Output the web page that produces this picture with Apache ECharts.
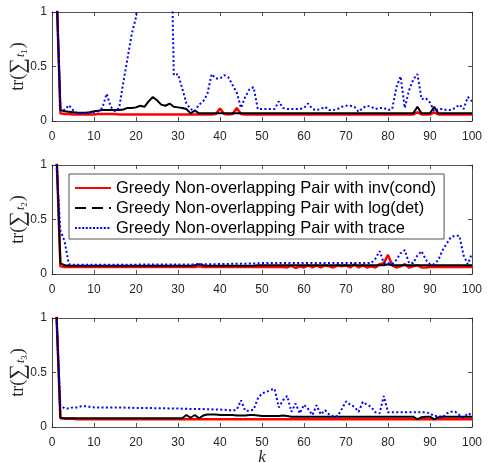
<!DOCTYPE html>
<html>
<head>
<meta charset="utf-8">
<script src="https://cdn.jsdelivr.net/npm/echarts@6/dist/echarts.min.js"></script>
<style>
  html, body { margin: 0; padding: 0; background: #fff; }
  #chart { width: 492px; height: 463px; }
</style>
</head>
<body>
<div id="chart"></div>
<script>
// Iteration index k
const K = [
  1,2,3,4,5,6,7,8,9,10,11,12,13,14,15,16,17,18,19,20,
  21,22,23,24,25,26,27,28,29,30,31,32,33,34,35,36,37,38,39,40,
  41,42,43,44,45,46,47,48,49,50,51,52,53,54,55,56,57,58,59,60,
  61,62,63,64,65,66,67,68,69,70,71,72,73,74,75,76,77,78,79,80,
  81,82,83,84,85,86,87,88,89,90,91,92,93,94,95,96,97,98,99,100
];

const xTicks = [0,10,20,30,40,50,60,70,80,90,100];
const yTicks = [0, 0.5, 1];

const names = [
  'Greedy Non-overlapping Pair with inv(cond)',
  'Greedy Non-overlapping Pair with log(det)',
  'Greedy Non-overlapping Pair with trace'
];

// tr(Sigma_t1)
const t1Cond = [
  1.3,0.07,0.065,0.065,0.06,0.06,0.06,0.06,0.06,0.06,
  0.065,0.065,0.065,0.065,0.065,0.06,0.06,0.06,0.06,0.06,
  0.06,0.06,0.06,0.06,0.06,0.06,0.06,0.06,0.06,0.06,
  0.06,0.06,0.06,0.06,0.06,0.06,0.06,0.06,0.065,0.115,
  0.065,0.06,0.065,0.12,0.065,0.06,0.06,0.06,0.06,0.06,
  0.06,0.06,0.06,0.06,0.06,0.06,0.06,0.06,0.06,0.06,
  0.06,0.06,0.06,0.06,0.06,0.06,0.06,0.06,0.06,0.06,
  0.06,0.06,0.06,0.06,0.06,0.06,0.06,0.06,0.06,0.06,
  0.06,0.06,0.06,0.06,0.06,0.06,0.08,0.06,0.06,0.06,
  0.08,0.06,0.06,0.06,0.06,0.06,0.06,0.06,0.06,0.06
];
const t1Det = [
  1.3,0.1,0.09,0.085,0.08,0.075,0.075,0.075,0.08,0.09,
  0.095,0.1,0.1,0.1,0.1,0.1,0.105,0.12,0.12,0.125,
  0.14,0.13,0.18,0.22,0.19,0.15,0.14,0.16,0.13,0.125,
  0.12,0.11,0.07,0.095,0.07,0.07,0.07,0.07,0.07,0.07,
  0.07,0.07,0.07,0.07,0.07,0.07,0.07,0.07,0.07,0.07,
  0.07,0.07,0.07,0.07,0.07,0.07,0.07,0.07,0.07,0.07,
  0.07,0.07,0.07,0.07,0.07,0.07,0.07,0.07,0.07,0.07,
  0.07,0.07,0.07,0.07,0.07,0.07,0.07,0.07,0.07,0.07,
  0.07,0.07,0.07,0.07,0.07,0.07,0.13,0.07,0.07,0.07,
  0.13,0.07,0.07,0.07,0.07,0.07,0.07,0.07,0.07,0.07
];
const t1Trace = [
  1.3,0.12,0.1,0.145,0.1,0.07,0.07,0.07,0.075,0.08,
  0.09,0.12,0.25,0.13,0.09,0.12,0.36,0.58,0.8,0.95,
  1.3,1.6,1.8,2.0,2.1,2.2,2.3,2.4,0.42,0.43,
  0.3,0.16,0.11,0.09,0.15,0.18,0.25,0.43,0.39,0.39,
  0.42,0.4,0.33,0.26,0.12,0.22,0.29,0.31,0.11,0.11,
  0.11,0.11,0.11,0.18,0.12,0.11,0.11,0.11,0.11,0.12,
  0.16,0.11,0.1,0.11,0.13,0.1,0.1,0.11,0.13,0.14,
  0.14,0.13,0.085,0.12,0.14,0.13,0.11,0.12,0.12,0.1,
  0.11,0.31,0.41,0.12,0.28,0.38,0.43,0.2,0.21,0.17,
  0.09,0.11,0.11,0.1,0.1,0.12,0.15,0.11,0.22,0.18
];

// tr(Sigma_t2)
const t2Cond = [
  1.2,0.07,0.065,0.065,0.065,0.065,0.065,0.065,0.065,0.065,
  0.065,0.065,0.065,0.065,0.065,0.065,0.065,0.065,0.065,0.065,
  0.065,0.065,0.065,0.065,0.065,0.065,0.065,0.065,0.065,0.065,
  0.065,0.065,0.065,0.065,0.07,0.065,0.065,0.065,0.065,0.065,
  0.065,0.065,0.065,0.065,0.065,0.065,0.065,0.065,0.065,0.065,
  0.065,0.065,0.065,0.065,0.065,0.06,0.075,0.055,0.07,0.06,
  0.08,0.06,0.08,0.06,0.08,0.07,0.06,0.08,0.07,0.08,
  0.06,0.09,0.06,0.08,0.06,0.07,0.06,0.09,0.1,0.175,
  0.08,0.06,0.07,0.09,0.06,0.07,0.08,0.06,0.06,0.065,
  0.065,0.065,0.065,0.065,0.065,0.065,0.065,0.065,0.065,0.065
];
const t2Det = [
  1.2,0.1,0.08,0.075,0.075,0.075,0.075,0.075,0.075,0.075,
  0.075,0.075,0.075,0.075,0.075,0.075,0.075,0.075,0.075,0.075,
  0.075,0.075,0.075,0.075,0.075,0.075,0.075,0.075,0.075,0.075,
  0.075,0.075,0.075,0.08,0.09,0.08,0.075,0.075,0.075,0.075,
  0.075,0.075,0.075,0.075,0.075,0.075,0.075,0.075,0.08,0.08,
  0.08,0.08,0.08,0.08,0.08,0.08,0.08,0.08,0.08,0.08,
  0.08,0.08,0.08,0.08,0.08,0.08,0.08,0.08,0.08,0.08,
  0.08,0.08,0.08,0.08,0.08,0.08,0.08,0.08,0.08,0.09,
  0.08,0.08,0.08,0.08,0.08,0.08,0.08,0.08,0.08,0.08,
  0.08,0.08,0.08,0.08,0.08,0.08,0.08,0.08,0.08,0.08
];
const t2Trace = [
  1.05,0.4,0.3,0.09,0.085,0.085,0.085,0.085,0.085,0.085,
  0.085,0.085,0.085,0.085,0.085,0.085,0.085,0.085,0.085,0.085,
  0.087,0.087,0.087,0.087,0.087,0.087,0.087,0.087,0.087,0.087,
  0.088,0.088,0.088,0.088,0.09,0.09,0.09,0.09,0.09,0.092,
  0.092,0.092,0.094,0.094,0.095,0.095,0.096,0.097,0.098,0.1,
  0.1,0.1,0.1,0.1,0.1,0.1,0.1,0.1,0.1,0.1,
  0.1,0.1,0.1,0.1,0.1,0.1,0.1,0.1,0.1,0.1,
  0.1,0.1,0.1,0.1,0.1,0.1,0.14,0.21,0.1,0.1,
  0.09,0.13,0.19,0.22,0.1,0.1,0.17,0.21,0.13,0.09,
  0.09,0.13,0.22,0.28,0.34,0.35,0.35,0.17,0.09,0.19
];

// tr(Sigma_t3)
const t3Cond = [
  1.1,0.08,0.075,0.075,0.075,0.07,0.07,0.07,0.07,0.07,
  0.07,0.07,0.07,0.07,0.07,0.07,0.07,0.07,0.07,0.07,
  0.07,0.07,0.07,0.07,0.07,0.07,0.07,0.07,0.07,0.07,
  0.07,0.07,0.07,0.07,0.07,0.07,0.07,0.07,0.07,0.07,
  0.07,0.07,0.07,0.07,0.07,0.07,0.07,0.07,0.07,0.07,
  0.07,0.07,0.07,0.07,0.07,0.07,0.07,0.07,0.07,0.07,
  0.07,0.07,0.07,0.07,0.07,0.07,0.07,0.07,0.07,0.07,
  0.07,0.07,0.07,0.07,0.07,0.07,0.07,0.07,0.07,0.07,
  0.07,0.07,0.07,0.07,0.07,0.07,0.07,0.07,0.07,0.07,
  0.07,0.07,0.07,0.07,0.07,0.07,0.07,0.07,0.07,0.07
];
const t3Det = [
  1.1,0.085,0.08,0.08,0.08,0.08,0.08,0.08,0.08,0.08,
  0.08,0.08,0.08,0.08,0.08,0.08,0.08,0.08,0.08,0.08,
  0.08,0.08,0.08,0.08,0.08,0.08,0.08,0.08,0.08,0.08,
  0.08,0.11,0.085,0.11,0.08,0.105,0.115,0.115,0.115,0.11,
  0.11,0.11,0.11,0.105,0.105,0.105,0.11,0.11,0.105,0.1,
  0.1,0.1,0.1,0.1,0.105,0.1,0.095,0.095,0.095,0.095,
  0.095,0.095,0.095,0.095,0.095,0.095,0.095,0.095,0.095,0.095,
  0.095,0.095,0.095,0.095,0.095,0.095,0.095,0.095,0.095,0.095,
  0.095,0.095,0.095,0.095,0.095,0.095,0.07,0.09,0.095,0.095,
  0.07,0.09,0.095,0.095,0.095,0.095,0.095,0.095,0.095,0.095
];
const t3Trace = [
  1.1,0.2,0.17,0.17,0.18,0.18,0.19,0.19,0.185,0.18,
  0.18,0.18,0.18,0.18,0.178,0.178,0.178,0.176,0.176,0.175,
  0.175,0.175,0.174,0.173,0.172,0.172,0.171,0.17,0.17,0.17,
  0.168,0.167,0.166,0.165,0.165,0.164,0.163,0.162,0.161,0.16,
  0.158,0.156,0.15,0.16,0.245,0.15,0.15,0.16,0.26,0.31,
  0.32,0.34,0.35,0.18,0.245,0.285,0.14,0.215,0.125,0.205,
  0.165,0.11,0.2,0.115,0.155,0.115,0.095,0.1,0.165,0.235,
  0.205,0.185,0.14,0.23,0.205,0.185,0.135,0.125,0.285,0.135,
  0.135,0.135,0.135,0.135,0.135,0.135,0.135,0.135,0.135,0.125,
  0.1,0.1,0.09,0.125,0.14,0.14,0.11,0.085,0.125,0.11
];

const panels = [
  { sub: '1', cond: t1Cond, det: t1Det, trace: t1Trace },
  { sub: '2', cond: t2Cond, det: t2Det, trace: t2Trace },
  { sub: '3', cond: t3Cond, det: t3Det, trace: t3Trace }
];

const AX = '#262626';
const SANS = 'Liberation Sans, Arial, Helvetica, sans-serif';
const SERIF = 'Liberation Serif, DejaVu Serif, Times New Roman, serif';
const RED = '#ff0000', BLACK = '#000000', BLUE = '#0000ff';
const DOT = [2, 2.4];

const grids = [], xAxes = [], yAxes = [], series = [];
const gridTops = [12, 165, 318];

// Legend keys: empty series that carry the key line styles (dashed black key)
series.push(
  { name: names[0], type: 'line', xAxisIndex: 2, yAxisIndex: 2, data: [], symbol: 'none',
    lineStyle: { color: RED, width: 2, type: 'solid' }, itemStyle: { color: RED } },
  { name: names[1], type: 'line', xAxisIndex: 2, yAxisIndex: 2, data: [], symbol: 'none',
    lineStyle: { color: BLACK, width: 2, type: [11, 6] }, itemStyle: { color: BLACK } },
  { name: names[2], type: 'line', xAxisIndex: 2, yAxisIndex: 2, data: [], symbol: 'none',
    lineStyle: { color: BLUE, width: 2, type: [2, 1.6], cap: 'butt' }, itemStyle: { color: BLUE } }
);

panels.forEach((p, i) => {
  grids.push({ left: 52, top: gridTops[i], width: 420, height: 109, outerBoundsMode: 'none', containLabel: false });
  const xBase = {
    gridIndex: i, type: 'value', min: 0, max: 100, interval: 10,
    axisLine: { show: true, onZero: false, lineStyle: { color: AX, width: 0.8 } },
    axisTick: { show: true, inside: true, length: 4, lineStyle: { color: AX, width: 0.8 } },
    splitLine: { show: false }
  };
  xAxes.push(Object.assign({}, xBase, {
    position: 'bottom',
    axisLabel: { show: true, color: AX, fontFamily: SANS, fontSize: 12, margin: 10,
      formatter: v => xTicks.indexOf(v) >= 0 ? String(v) : '' },
    name: i === 2 ? 'k' : '',
    nameLocation: 'middle', nameGap: 22, nameMoveOverlap: false,
    nameTextStyle: { fontFamily: SERIF, fontStyle: 'italic', fontSize: 17, color: AX }
  }));
  xAxes.push(Object.assign({}, xBase, { position: 'top', axisLabel: { show: false } }));

  const yBase = {
    gridIndex: i, type: 'value', min: 0, max: 1, interval: 0.5,
    axisLine: { show: true, onZero: false, lineStyle: { color: AX, width: 0.8 } },
    axisTick: { show: true, inside: true, length: 4, lineStyle: { color: AX, width: 0.8 } },
    splitLine: { show: false }
  };
  yAxes.push(Object.assign({}, yBase, {
    position: 'left',
    axisLabel: { show: true, color: AX, fontFamily: SANS, fontSize: 12, margin: 5,
      formatter: v => yTicks.indexOf(v) >= 0 ? String(v) : '' },
    name: '{a|tr(}{b|∑}{c|t}{d|' + p.sub + '}{a|)}',
    nameLocation: 'middle', nameRotate: 90, nameGap: 22, nameMoveOverlap: false,
    nameTextStyle: {
      color: AX,
      rich: {
        a: { fontFamily: SERIF, fontSize: 18, color: AX, lineHeight: 24 },
        b: { fontFamily: SERIF, fontSize: 22, color: AX, lineHeight: 24 },
        c: { fontFamily: SERIF, fontStyle: 'italic', fontSize: 12, color: AX, lineHeight: 24, verticalAlign: 'bottom', padding: [0, 0, 3, 1] },
        d: { fontFamily: SERIF, fontSize: 9, color: AX, lineHeight: 24, verticalAlign: 'bottom', padding: [0, 1, 1, 0] }
      }
    }
  }));
  yAxes.push(Object.assign({}, yBase, { position: 'right', axisLabel: { show: false } }));

  const mk = (vals) => K.map((k, j) => [k, vals[j]]);
  series.push({
    name: names[0], type: 'line', xAxisIndex: 2 * i, yAxisIndex: 2 * i,
    data: mk(p.cond), showSymbol: false, symbol: 'none', clip: true, z: 2,
    lineStyle: { color: RED, width: 2.5 }, itemStyle: { color: RED }
  });
  series.push({
    name: names[1], type: 'line', xAxisIndex: 2 * i, yAxisIndex: 2 * i,
    data: mk(p.det), showSymbol: false, symbol: 'none', clip: true, z: 3,
    lineStyle: { color: BLACK, width: 2 }, itemStyle: { color: BLACK }
  });
  series.push({
    name: names[2], type: 'line', xAxisIndex: 2 * i, yAxisIndex: 2 * i,
    data: mk(p.trace), showSymbol: false, symbol: 'none', clip: true, z: 4,
    lineStyle: { color: BLUE, width: 2, type: DOT, cap: 'butt' }, itemStyle: { color: BLUE }
  });
});

const chart = echarts.init(document.getElementById('chart'), null, { renderer: 'canvas' });
chart.setOption({
  animation: false,
  backgroundColor: '#ffffff',
  grid: grids,
  xAxis: xAxes,
  yAxis: yAxes,
  legend: {
    show: true,
    orient: 'vertical',
    left: 69, top: 174, right: 'auto', bottom: 'auto',
    z: 10,
    backgroundColor: '#ffffff',
    borderColor: AX, borderWidth: 0.8,
    padding: [5, 8, 2, 5],
    itemWidth: 36, itemHeight: 16, itemGap: 2,
    itemStyle: { opacity: 0, borderWidth: 0 },
    textStyle: { fontFamily: SANS, fontSize: 16.5, lineHeight: 18, color: '#000' },
    selectedMode: false,
    data: names
  },
  series: series
});
</script>
</body>
</html>
